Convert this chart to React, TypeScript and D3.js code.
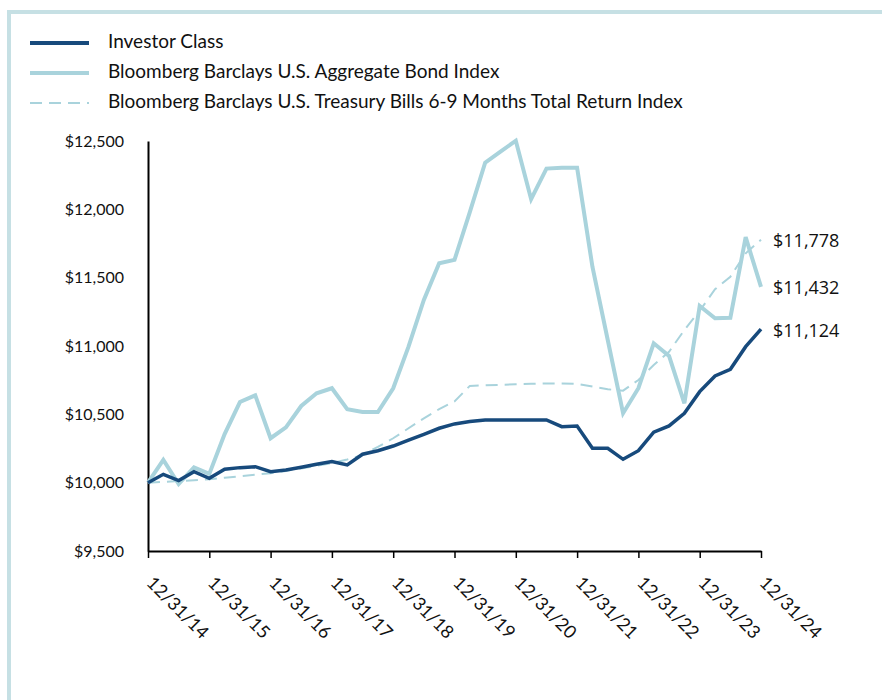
import React, { useEffect, useRef } from 'react';
import * as d3 from 'd3';

// quarterly values, 12/31/14 .. 12/31/24
const investorClass = [
  10000, 10061, 10015, 10080, 10032, 10098, 10110, 10117, 10080, 10093,
  10113, 10135, 10154, 10130, 10208, 10234, 10268, 10312, 10354, 10398,
  10430, 10447, 10459, 10459, 10459, 10459, 10459, 10410, 10415, 10252,
  10252, 10171, 10234, 10369, 10415, 10508, 10666, 10781, 10830, 10995,
  11124,
];
const aggregateBond = [
  10000, 10166, 9990, 10112, 10064, 10356, 10590, 10639, 10325, 10405,
  10561, 10654, 10691, 10537, 10517, 10517, 10691, 10995, 11337, 11605,
  11630, 11980, 12341, 12422, 12502, 12074, 12298, 12305, 12305, 11580,
  11044, 10508, 10691, 11020, 10927, 10581, 11293, 11203, 11207, 11796,
  11432,
];
const treasuryBills = [
  10000, 10006, 10012, 10018, 10025, 10036, 10047, 10058, 10069, 10086,
  10104, 10123, 10142, 10170, 10203, 10262, 10325, 10398, 10471, 10538,
  10595, 10708, 10712, 10716, 10720, 10723, 10726, 10726, 10722, 10703,
  10683, 10673, 10751, 10861, 10958, 11117, 11258, 11415, 11507, 11678,
  11778,
];
const yearLabels = ['12/31/14', '12/31/15', '12/31/16', '12/31/17', '12/31/18', '12/31/19',
  '12/31/20', '12/31/21', '12/31/22', '12/31/23', '12/31/24'];
const yTicks = [9500, 10000, 10500, 11000, 11500, 12000, 12500];
const seriesNames = ['Investor Class', 'Bloomberg Barclays U.S. Aggregate Bond Index',
  'Bloomberg Barclays U.S. Treasury Bills 6-9 Months Total Return Index'];

const App = () => {
  const ref = useRef<SVGSVGElement>(null);

  useEffect(() => {
    const svg = d3.select(ref.current);
    svg.selectAll('*').remove();

    const left = 148, right = 761, top = 141, bottom = 551;
    const font = 'Lato, sans-serif';

    // frame
    svg.append('rect').attr('x', 9).attr('y', 12).attr('width', 900).attr('height', 720)
      .attr('fill', 'none').attr('stroke', '#c6e0e4').attr('stroke-width', 4);

    const x = d3.scaleLinear().domain([0, investorClass.length - 1]).range([left, right]);
    const y = d3.scaleLinear().domain([9500, 12500]).range([bottom, top]);

    // y axis
    const yAxis = svg.append('g').attr('transform', `translate(${left},0)`)
      .call(d3.axisLeft(y).tickValues(yTicks).tickSize(0).tickPadding(24)
        .tickFormat(d => '$' + d3.format(',')(d as number)));
    yAxis.select('.domain').attr('stroke', '#000').attr('stroke-width', 2);
    yAxis.selectAll('text').attr('font-family', font).attr('font-size', 16).attr('fill', '#111');

    // x axis
    const xAxis = svg.append('g').attr('transform', `translate(0,${bottom})`)
      .call(d3.axisBottom(x).tickValues(d3.range(0, 41, 4)).tickSize(7).tickSizeOuter(0)
        .tickFormat((d, i) => yearLabels[i]));
    xAxis.select('.domain').attr('stroke', '#000').attr('stroke-width', 2);
    xAxis.selectAll('line').attr('stroke', '#000').attr('stroke-width', 1.5);
    xAxis.selectAll('text')
      .attr('font-family', font).attr('font-size', 18).attr('fill', '#111')
      .attr('text-anchor', 'start').attr('dy', 0).attr('y', 0)
      .attr('transform', 'translate(-3,33) rotate(45)');

    const line = d3.line<number>().x((d, i) => x(i)).y(d => y(d));

    svg.append('path').datum(treasuryBills).attr('d', line).attr('fill', 'none')
      .attr('stroke', '#a9d3dc').attr('stroke-width', 2).attr('stroke-dasharray', '12,7');
    svg.append('path').datum(aggregateBond).attr('d', line).attr('fill', 'none')
      .attr('stroke', '#a9d3dc').attr('stroke-width', 4).attr('stroke-linejoin', 'miter');
    svg.append('path').datum(investorClass).attr('d', line).attr('fill', 'none')
      .attr('stroke', '#174a7c').attr('stroke-width', 3.5);

    // end labels
    const last = investorClass.length - 1;
    const endLabels = [
      { v: treasuryBills[last], dy: 3 },
      { v: aggregateBond[last], dy: 2 },
      { v: investorClass[last], dy: 3 },
    ];
    svg.selectAll('.endlabel').data(endLabels).enter().append('text')
      .attr('x', x(last) + 12).attr('y', d => y(d.v) + d.dy)
      .attr('dominant-baseline', 'middle')
      .attr('font-family', '"Open Sans", sans-serif').attr('font-size', 18).attr('fill', '#111')
      .text(d => '$' + d3.format(',')(d.v));

    // legend
    const legendStyles = [
      { color: '#174a7c', width: 4, dash: null },
      { color: '#a9d3dc', width: 4, dash: null },
      { color: '#a9d3dc', width: 2, dash: '12,7' },
    ];
    seriesNames.forEach((name, i) => {
      const ly = 43 + i * 30;
      svg.append('line').attr('x1', 30).attr('x2', 89).attr('y1', ly).attr('y2', ly)
        .attr('stroke', legendStyles[i].color).attr('stroke-width', legendStyles[i].width)
        .attr('stroke-dasharray', legendStyles[i].dash);
      svg.append('text').attr('x', 108).attr('y', ly).attr('dominant-baseline', 'middle')
        .attr('font-family', font).attr('font-size', 19).attr('fill', '#111').text(name);
    });
  }, []);

  return (
    <div style={{ position: 'absolute', left: 0, top: 0 }}>
      <svg ref={ref} width={882} height={700} style={{ display: 'block', background: '#fff' }} />
    </div>
  );
};

export default App;
